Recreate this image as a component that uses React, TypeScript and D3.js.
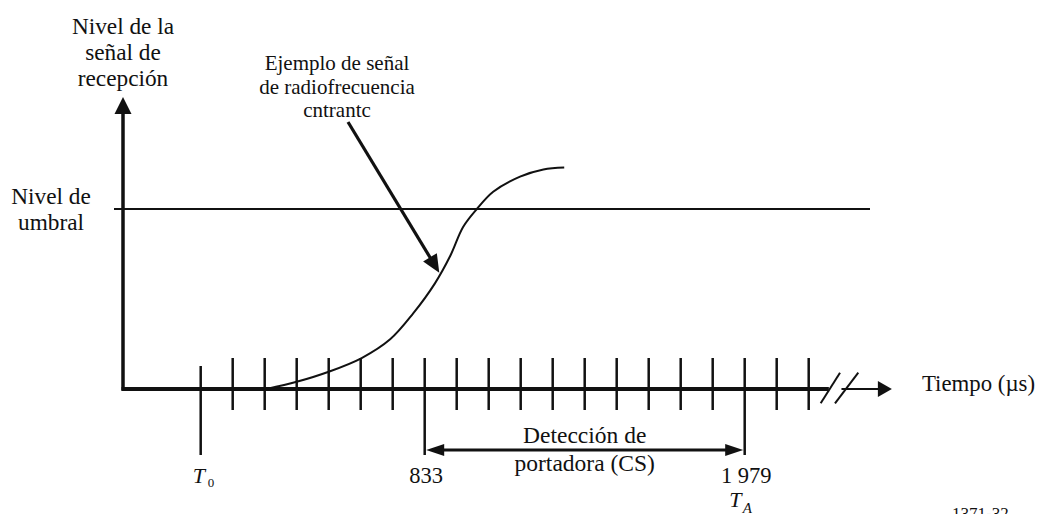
import React from "react";
import * as d3 from "d3";

// ---- data ----
const tickIndices: number[] = d3.range(0, 20); // 20 equally spaced time ticks
const tickLabels: { index: number; text: string }[] = [
  { index: 7, text: "833" },
  { index: 17, text: "1 979" },
];
const thresholdLevel = 1;
// incoming RF signal example (tick index, relative level)
const signalIndex: number[] = [2.06, 3.0, 4.0, 5.03, 5.92, 6.64, 7.32, 7.8, 8.2, 8.63, 9.14, 9.98, 10.71, 11.36];
const signalLevel: number[] = [0, 0.04, 0.096, 0.172, 0.276, 0.42, 0.587, 0.74, 0.9, 1.0, 1.096, 1.18, 1.22, 1.23];

const yAxisTitle = ["Nivel de la", "señal de", "recepción"];
const thresholdTitle = ["Nivel de", "umbral"];
const annotation = ["Ejemplo de señal", "de radiofrecuencia", "cntrantc"];
const csLabel = ["Detección de", "portadora (CS)"];
const xAxisTitle = "Tiempo (µs)";
const figureId = "1371-32";

const W = 1042;
const H = 514;
const FONT = '"Liberation Serif", "Times New Roman", serif';

export default function App() {
  const x = d3.scaleLinear().domain([0, 19]).range([200.7, 808.7]);
  const y = d3.scaleLinear().domain([0, 1]).range([389, 209]);
  const y0 = y(0);
  const axisX = 123;

  const line = d3
    .line<number>()
    .x((_, i) => x(signalIndex[i]))
    .y((d) => y(d))
    .curve(d3.curveCatmullRom.alpha(0.5));

  const arrowHead = (tx: number, ty: number, fx: number, fy: number, len: number, half: number) => {
    const a = Math.atan2(ty - fy, tx - fx);
    const bx = tx - len * Math.cos(a);
    const by = ty - len * Math.sin(a);
    const px = -Math.sin(a) * half;
    const py = Math.cos(a) * half;
    return `M${tx},${ty}L${bx + px},${by + py}L${bx - px},${by - py}Z`;
  };

  const breakX = x(19.63);
  const thinStart = x(19.68);
  const arrowTip = x(21.6);

  const specialTicks: Record<number, [number, number]> = {
    0: [366, 455],
    7: [358, 455],
    17: [358, 455],
  };

  // annotation arrow
  const annFrom: [number, number] = [348, 122];
  const annTo: [number, number] = [439.3, 272.7];
  const annA = Math.atan2(annTo[1] - annFrom[1], annTo[0] - annFrom[0]);
  const annLineEnd: [number, number] = [annTo[0] - 14 * Math.cos(annA), annTo[1] - 14 * Math.sin(annA)];

  const csY = 450;
  const csL = x(7);
  const csR = x(17);

  const ts = { fontFamily: FONT };

  return (
    <svg width={W} height={H} style={{ position: "absolute", left: 0, top: 0, background: "#fff" }}>
      <rect width={W} height={H} fill="#fff" />

      {/* y-axis title */}
      {yAxisTitle.map((t, i) => (
        <text key={t} style={ts} x={axisX} y={34 + i * 26} fontSize={23.3} textAnchor="middle" fill="#111">
          {t}
        </text>
      ))}

      {/* threshold title */}
      {thresholdTitle.map((t, i) => (
        <text key={t} style={ts} x={51} y={204 + i * 26} fontSize={23.3} textAnchor="middle" fill="#111">
          {t}
        </text>
      ))}

      {/* threshold line */}
      <line x1={114} x2={870} y1={y(thresholdLevel)} y2={y(thresholdLevel)} stroke="#111" strokeWidth={2} />

      {/* vertical axis */}
      <line x1={axisX} x2={axisX} y1={y0 + 1.5} y2={110} stroke="#111" strokeWidth={3.5} />
      <path d={`M${axisX},97L${axisX - 8.5},114L${axisX + 8.5},114Z`} fill="#111" />

      {/* horizontal axis (thick part) */}
      <line x1={axisX - 1.5} x2={breakX} y1={y0} y2={y0} stroke="#111" strokeWidth={4} />
      {/* break marks */}
      <line x1={820.7} y1={403.3} x2={840} y2={372.7} stroke="#111" strokeWidth={2} />
      <line x1={835} y1={403.3} x2={858.3} y2={372.7} stroke="#111" strokeWidth={2} />
      {/* thin continuation + arrow */}
      <line x1={thinStart + 11} x2={arrowTip - 12} y1={y0} y2={y0} stroke="#111" strokeWidth={2.2} />
      <path d={arrowHead(arrowTip, y0, arrowTip - 20, y0, 14, 8)} fill="#111" />
      <text style={ts} x={922} y={y0 + 2} fontSize={22.8} fill="#111">
        {xAxisTitle}
      </text>

      {/* ticks */}
      {tickIndices.map((i) => {
        const [t1, t2] = specialTicks[i] ?? [358, 410];
        return <line key={i} x1={x(i)} x2={x(i)} y1={t1} y2={t2} stroke="#111" strokeWidth={2.5} />;
      })}

      {/* signal curve */}
      <path d={line(signalLevel) ?? ""} fill="none" stroke="#111" strokeWidth={2} />

      {/* annotation */}
      {annotation.map((t, i) => (
        <text key={t} style={ts} x={337} y={70 + i * 23.5} fontSize={21} textAnchor="middle" fill="#111">
          {t}
        </text>
      ))}
      <line x1={annFrom[0]} y1={annFrom[1]} x2={annLineEnd[0]} y2={annLineEnd[1]} stroke="#111" strokeWidth={3.2} />
      <path d={arrowHead(annTo[0], annTo[1], annFrom[0], annFrom[1], 18, 8)} fill="#111" />

      {/* carrier sense double arrow */}
      <line x1={csL + 14} x2={csR - 14} y1={csY} y2={csY} stroke="#111" strokeWidth={3} />
      <path d={arrowHead(csL + 1.5, csY, csR, csY, 18, 6)} fill="#111" />
      <path d={arrowHead(csR - 1.5, csY, csL, csY, 18, 6)} fill="#111" />
      {csLabel.map((t, i) => (
        <text key={t} style={ts} x={(csL + csR) / 2} y={443 + i * 28} fontSize={23.5} textAnchor="middle" fill="#111">
          {t}
        </text>
      ))}

      {/* tick labels */}
      {tickLabels.map((d) => (
        <text key={d.text} style={ts} x={x(d.index) + 1.5} y={482.5} fontSize={22.5} textAnchor="middle" fill="#111">
          {d.text}
        </text>
      ))}
      <text style={ts} x={x(0) - 8} y={482.5} fontSize={22} fontStyle="italic" fill="#111">
        T
      </text>
      <text style={ts} x={x(0) + 7} y={486.5} fontSize={13} fill="#111">
        0
      </text>
      <text style={ts} x={x(17) - 15.5} y={507} fontSize={22} fontStyle="italic" fill="#111">
        T
      </text>
      <text style={ts} x={x(17) - 2} y={513} fontSize={15} fontStyle="italic" fill="#111">
        A
      </text>

      {/* figure id */}
      <text style={ts} x={952} y={519} fontSize={17} fill="#111">
        {figureId}
      </text>
    </svg>
  );
}
